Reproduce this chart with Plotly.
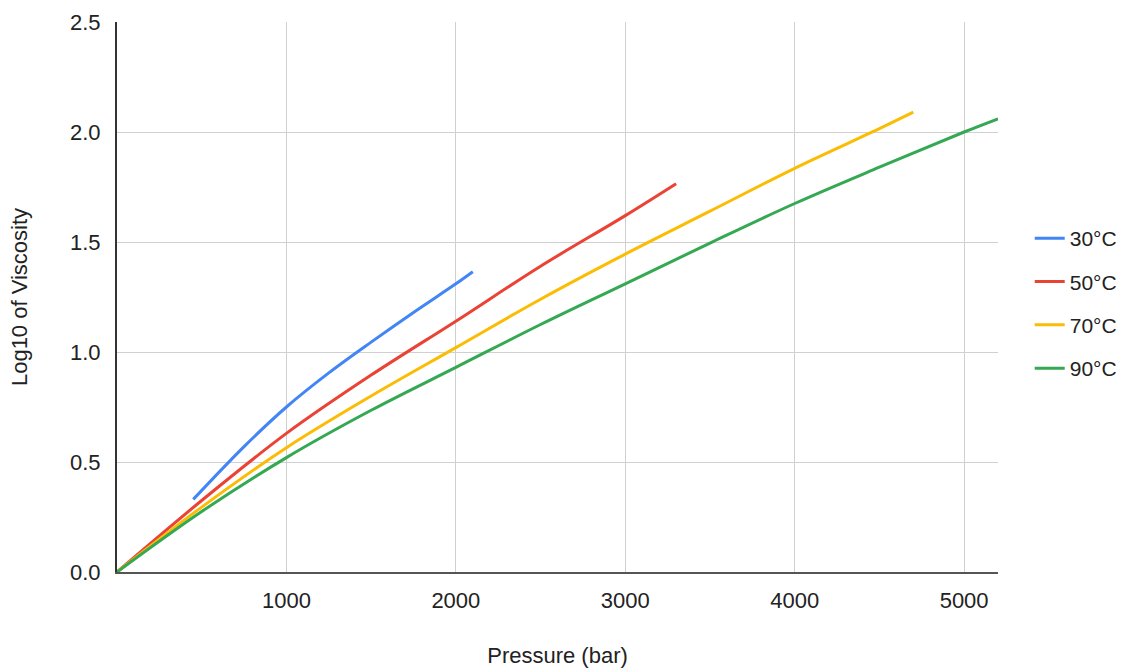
import plotly.graph_objects as go

# Data
series_names = ["30°C", "50°C", "70°C", "90°C"]
series_colors = ["#4285F4", "#EA4335", "#FBBC04", "#34A853"]

p_30 = [450, 750, 1000, 1250, 1500, 1750, 2000, 2100]
v_30 = [0.33, 0.57, 0.75, 0.905, 1.045, 1.18, 1.31, 1.365]

p_50 = [0, 500, 1000, 1500, 2000, 2500, 3000, 3300]
v_50 = [0.0, 0.325, 0.63, 0.895, 1.14, 1.39, 1.62, 1.765]

p_70 = [0, 500, 1000, 1500, 2000, 2500, 3000, 3500, 4000, 4500, 4700]
v_70 = [0.0, 0.295, 0.565, 0.80, 1.02, 1.24, 1.445, 1.64, 1.835, 2.015, 2.09]

p_90 = [0, 500, 1000, 1500, 2000, 2500, 3000, 3500, 4000, 4500, 5000, 5200]
v_90 = [0.0, 0.275, 0.52, 0.735, 0.93, 1.125, 1.31, 1.495, 1.675, 1.84, 2.0, 2.06]

x_ticks = [1000, 2000, 3000, 4000, 5000]
y_ticks = [0.0, 0.5, 1.0, 1.5, 2.0, 2.5]
y_tick_text = ["0.0", "0.5", "1.0", "1.5", "2.0", "2.5"]

xs = [p_30, p_50, p_70, p_90]
ys = [v_30, v_50, v_70, v_90]

fig = go.Figure()
for i, (name, color, x, y) in enumerate(zip(series_names, series_colors, xs, ys)):
    fig.add_trace(go.Scatter(
        x=x, y=y, mode="lines", name=name,
        line=dict(color=color, width=3, shape="spline", smoothing=1.0),
        legendgroup=f"g{i}",
    ))

font_family = "Liberation Sans, Arial, sans-serif"

fig.update_layout(
    width=1134, height=670,
    margin=dict(l=117, r=136, t=22, b=98),
    paper_bgcolor="white", plot_bgcolor="white",
    font=dict(family=font_family, size=22, color="#222222"),
    showlegend=True,
    legend=dict(
        x=1.036, y=0.488, xanchor="left", yanchor="middle",
        font=dict(size=21, color="#222222"),
        tracegroupgap=13,
        bgcolor="rgba(0,0,0,0)",
    ),
    xaxis=dict(
        range=[0, 5200], automargin=False,
        tickvals=x_ticks,
        ticktext=[str(t) for t in x_ticks],
        showgrid=True, gridcolor="#d0d0d0", gridwidth=1,
        showline=True, linecolor="#555555", linewidth=2,
        zeroline=False, ticks="", ticklabelstandoff=8,
        title=dict(text="Pressure (bar)", font=dict(size=22), standoff=35),
    ),
    yaxis=dict(
        range=[0, 2.5], automargin=False,
        tickvals=y_ticks, ticktext=y_tick_text,
        showgrid=True, gridcolor="#d0d0d0", gridwidth=1,
        showline=True, linecolor="#333333", linewidth=2,
        zeroline=False, ticks="", ticklabelstandoff=10,
        title=dict(text="Log10 of Viscosity", font=dict(size=22), standoff=36),
    ),
)

fig.write_html("out.html")
